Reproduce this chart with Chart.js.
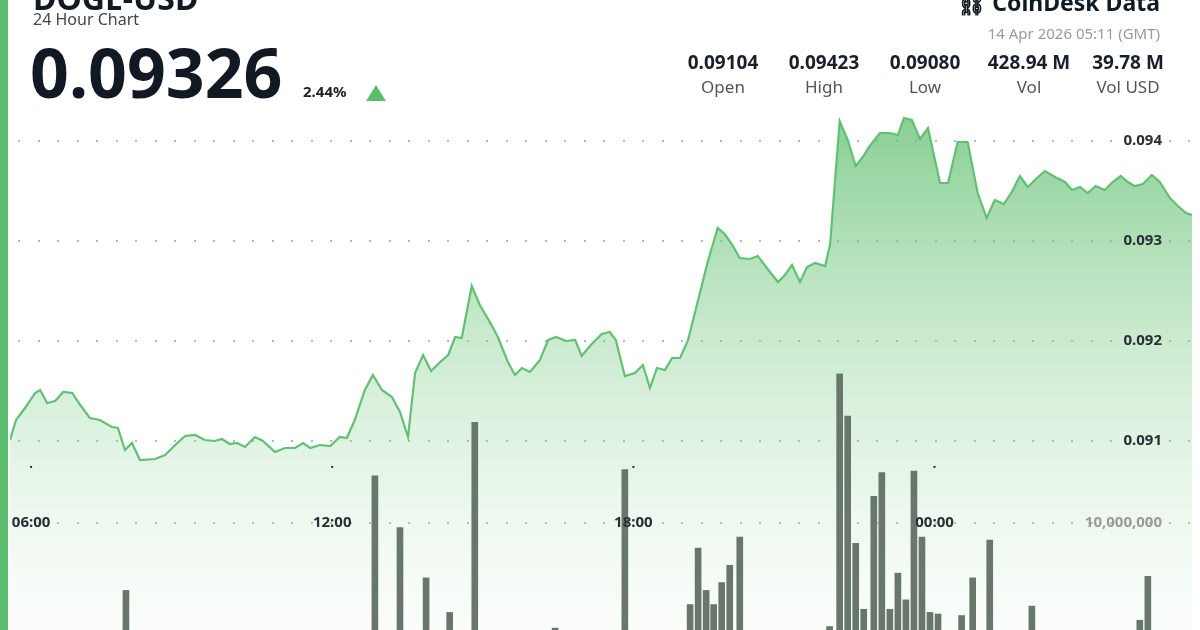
<!DOCTYPE html>
<html><head><meta charset="utf-8">
<script src="https://cdn.jsdelivr.net/npm/chart.js@4/dist/chart.umd.min.js"></script>
<style>
html,body{margin:0;padding:0;width:1200px;height:630px;overflow:hidden;background:#fff;font-family:"Noto Sans","Open Sans",sans-serif;}
#stripe{position:absolute;left:0;top:0;width:8px;height:630px;background:#5cbf6e;}
canvas{position:absolute;left:0;top:0;}
.t{position:absolute;white-space:nowrap;color:#111a22;}
.stat{position:absolute;top:49px;width:110px;text-align:center;}
.stat b{display:block;font-size:19px;color:#1a202a;}
.stat span{display:block;font-size:17px;color:#555;margin-top:0px;}
</style></head><body>
<canvas id="c" width="1200" height="630"></canvas>
<div id="stripe"></div>
<div class="t" style="left:33px;top:-24px;font-size:32px;font-weight:700;">DOGE-USD</div>
<div class="t" style="left:33px;top:8px;font-size:16px;color:#444;">24 Hour Chart</div>
<div class="t" style="left:30px;top:31px;font-size:68px;font-weight:700;line-height:1.2;">0.09326</div>
<div class="t" style="left:303px;top:81px;font-size:15px;font-weight:700;color:#222;">2.44%</div>
<div style="position:absolute;left:366px;top:85px;width:0;height:0;border-left:10px solid transparent;border-right:10px solid transparent;border-bottom:16px solid #5cbf6e;"></div>
<div class="t" style="right:40px;top:-14px;font-size:23px;font-weight:700;">⛓ CoinDesk Data</div>
<div class="t" style="right:40px;top:23px;font-size:15px;color:#999;">14 Apr 2026 05:11 (GMT)</div>
<div class="stat" style="left:668px"><b>0.09104</b><span>Open</span></div>
<div class="stat" style="left:769px"><b>0.09423</b><span>High</span></div>
<div class="stat" style="left:870px"><b>0.09080</b><span>Low</span></div>
<div class="stat" style="left:974px"><b>428.94 M</b><span>Vol</span></div>
<div class="stat" style="left:1073px"><b>39.78 M</b><span>Vol USD</span></div>
<script>
// hours since start-day midnight (24+ = next day)
const priceHours=[5.58,5.70,5.88,6.08,6.18,6.32,6.48,6.64,6.82,6.98,7.17,7.37,7.61,7.73,7.87,8.01,8.17,8.47,8.67,8.87,9.07,9.27,9.46,9.66,9.80,9.96,10.10,10.26,10.46,10.62,10.86,11.06,11.26,11.42,11.56,11.76,11.96,12.15,12.29,12.45,12.65,12.81,12.99,13.19,13.35,13.51,13.65,13.81,13.97,14.15,14.31,14.45,14.58,14.78,14.94,15.14,15.30,15.50,15.64,15.78,15.94,16.14,16.30,16.46,16.66,16.84,16.97,17.17,17.37,17.53,17.65,17.83,18.03,18.19,18.33,18.47,18.63,18.77,18.93,19.09,19.29,19.48,19.68,19.82,19.96,20.12,20.32,20.48,20.66,20.88,21.02,21.16,21.32,21.46,21.62,21.82,21.92,22.11,22.27,22.43,22.57,22.71,22.91,23.11,23.27,23.39,23.55,23.71,23.87,24.11,24.27,24.46,24.66,24.86,25.04,25.20,25.38,25.54,25.70,25.86,26.04,26.20,26.40,26.60,26.74,26.90,27.05,27.21,27.39,27.55,27.71,27.85,27.99,28.15,28.33,28.49,28.69,28.85,29.01,29.13];
const priceValues=[0.09101,0.09121,0.09133,0.09148,0.09151,0.09138,0.09140,0.09149,0.09148,0.09136,0.09123,0.09121,0.09114,0.09113,0.09091,0.09098,0.09081,0.09082,0.09086,0.09096,0.09105,0.09106,0.09101,0.09100,0.09102,0.09097,0.09098,0.09094,0.09104,0.09100,0.09089,0.09093,0.09093,0.09098,0.09093,0.09096,0.09095,0.09104,0.09103,0.09121,0.09151,0.09166,0.09151,0.09144,0.09129,0.09104,0.09168,0.09186,0.09170,0.09179,0.09186,0.09204,0.09203,0.09255,0.09236,0.09219,0.09204,0.09179,0.09166,0.09173,0.09169,0.09181,0.09201,0.09204,0.09200,0.09201,0.09185,0.09197,0.09207,0.09209,0.09201,0.09165,0.09168,0.09176,0.09153,0.09173,0.09171,0.09183,0.09183,0.09201,0.09241,0.09279,0.09313,0.09307,0.09297,0.09283,0.09282,0.09285,0.09273,0.09259,0.09266,0.09276,0.09259,0.09274,0.09278,0.09275,0.09297,0.09420,0.09401,0.09375,0.09384,0.09395,0.09408,0.09408,0.09406,0.09423,0.09421,0.09402,0.09413,0.09358,0.09358,0.09399,0.09399,0.09348,0.09323,0.09341,0.09337,0.09349,0.09365,0.09354,0.09363,0.09370,0.09364,0.09359,0.09351,0.09354,0.09348,0.09355,0.09351,0.09359,0.09365,0.09359,0.09355,0.09357,0.09366,0.09359,0.09343,0.09335,0.09328,0.09326];
const volHours=[7.89,12.85,13.35,13.87,14.34,14.84,16.44,17.83,19.13,19.29,19.45,19.60,19.76,19.92,20.12,21.91,22.11,22.27,22.43,22.59,22.79,22.95,23.11,23.27,23.43,23.59,23.75,23.91,24.07,24.54,24.76,25.10,25.94,28.09,28.25];
const volValues=[5.7e6,13.0e6,9.7e6,6.5e6,4.3e6,16.4e6,3.3e6,13.4e6,4.8e6,8.4e6,5.7e6,4.8e6,6.2e6,7.3e6,9.1e6,3.4e6,19.5e6,16.8e6,8.7e6,4.5e6,11.7e6,13.2e6,4.5e6,6.8e6,5.1e6,13.3e6,9.1e6,4.3e6,4.2e6,4.1e6,6.5e6,8.9e6,4.7e6,3.8e6,6.6e6];
const priceTicks=[0.091,0.092,0.093,0.094];
const priceTickLabels=["0.091","0.092","0.093","0.094"];
const timeTicks=[6,12,18,24];
const timeTickLabels=["06:00","12:00","18:00","00:00"];
const volTick=10000000, volTickLabel="10,000,000";

const dotted=(ctx,y,x0,x1)=>{ctx.fillStyle="#b5b5b5";for(let x=x0;x<x1;x+=19.5){ctx.fillRect(Math.round(x),Math.round(y)-1,2,2);}};
const overlay={id:'overlay',
 beforeDatasetsDraw(ch){const {ctx,chartArea:a,scales:s}=ch;ctx.save();
  priceTicks.forEach(v=>dotted(ctx,s.y.getPixelForValue(v),a.left+8,a.right));
  dotted(ctx,s.y2.getPixelForValue(volTick),a.left+8,a.right);
  ctx.restore();},
 afterDatasetsDraw(ch){const {ctx,chartArea:a,scales:s}=ch;ctx.save();
  ctx.font="bold 15px 'Noto Sans'";ctx.textBaseline="middle";ctx.textAlign="right";
  priceTicks.forEach((v,i)=>{ctx.fillStyle="#2a2f35";ctx.fillText(priceTickLabels[i],1162,s.y.getPixelForValue(v));});
  ctx.fillStyle="#9a9a9a";ctx.fillText(volTickLabel,1162,s.y2.getPixelForValue(volTick));
  ctx.textAlign="center";
  const ty=s.y2.getPixelForValue(volTick);
  timeTicks.forEach((h,i)=>{const x=s.x.getPixelForValue(h);ctx.fillStyle="#2a2f35";ctx.fillText(timeTickLabels[i],x,ty);ctx.fillRect(x-1,ty-57,2,2);});
  ctx.restore();}};

const ctx=document.getElementById('c').getContext('2d');
const grad=ctx.createLinearGradient(0,110,0,630);
grad.addColorStop(0,'rgba(100,192,115,0.78)');
grad.addColorStop(0.45,'rgba(140,210,150,0.45)');
grad.addColorStop(1,'rgba(200,235,205,0.08)');
new Chart(ctx,{
 data:{datasets:[
  {type:'line',order:2,data:priceHours.map((h,i)=>({x:h,y:priceValues[i]})),borderColor:'#62c073',borderWidth:2.2,pointRadius:0,tension:0,fill:'start',backgroundColor:grad,yAxisID:'y'},
  {type:'bar',order:1,data:volHours.map((h,i)=>({x:h,y:volValues[i]})),backgroundColor:'#69766b',barThickness:6,yAxisID:'y2'}
 ]},
 options:{responsive:false,animation:false,devicePixelRatio:1,layout:{padding:{left:10,right:8,top:0,bottom:0}},
  plugins:{legend:{display:false},tooltip:{enabled:false}},
  scales:{x:{type:'linear',offset:false,grid:{offset:false},min:5.58,max:29.13,display:false},
   y:{min:0.08911,max:0.09541,display:false},
   y2:{min:3.18e6,max:43.3e6,display:false}}},
 plugins:[overlay]});
</script></body></html>
